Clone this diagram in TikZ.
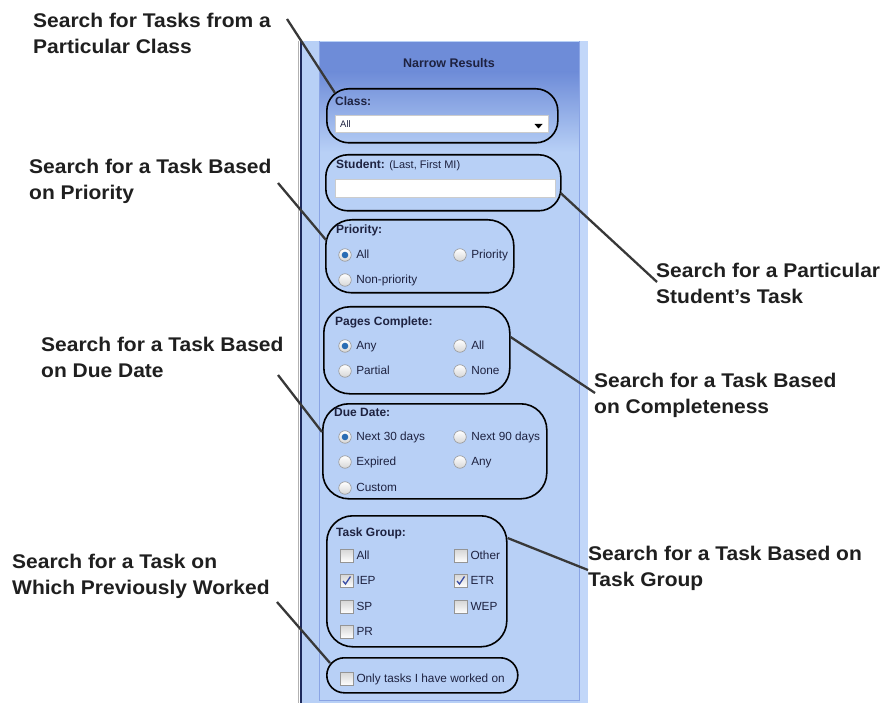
\documentclass[tikz,border=0pt]{standalone}
\usepackage{fontspec}
\setmainfont{Liberation Sans}
\newfontfamily\notefont{Liberation Sans}[FakeStretch=1.06]
\usetikzlibrary{positioning}
\definecolor{panelblue}{HTML}{B8D0F6}
\definecolor{striplight}{HTML}{C2D7F9}
\definecolor{headblue}{HTML}{6E8CD8}
\definecolor{edgeblue}{HTML}{8AA4E4}
\definecolor{navyline}{HTML}{1E2A5C}
\definecolor{uitext}{HTML}{1E2240}
\definecolor{notetext}{HTML}{1F1F1F}
\definecolor{leadgray}{HTML}{383838}
\definecolor{radioedge}{HTML}{959595}
\definecolor{radiogray}{HTML}{D6D6D6}
\definecolor{dotblue}{HTML}{2A6DB4}
\definecolor{tickblue}{HTML}{3A4EA6}
\tikzset{
  note/.style={font=\notefont\fontsize{19.8}{25.5}\selectfont\bfseries, text=notetext,
    align=left, anchor=north west, inner sep=0pt},
  leader/.style={draw=leadgray, line width=2.3pt},
  grpbox/.style={draw=black, line width=1.6pt, rounded corners=26pt, anchor=north west, inner sep=0pt},
  uititle/.style={font=\fontsize{12}{14}\selectfont\bfseries, text=uitext, anchor=base west, inner sep=0pt},
  optlabel/.style={font=\fontsize{11.8}{14}\selectfont, text=uitext, inner sep=0pt,
    text height=8.5pt, text depth=1.5pt},
  radio/.style={circle, draw=radioedge, line width=0.6pt, minimum size=12.5pt, inner sep=0pt,
    top color=white, bottom color=radiogray},
  checkbox/.style={rectangle, draw=radioedge, line width=0.6pt, minimum size=13pt, inner sep=0pt,
    top color=radiogray, bottom color=white},
  tick/.style={draw=tickblue, line width=1.3pt},
}
\begin{document}
\begin{tikzpicture}[x=1pt,y=-1pt]
  \useasboundingbox[fill=white] (0,0) rectangle (886,703);
  % panel
  \fill[panelblue] (300,41) rectangle (588,703);
  \fill[striplight] (580,41) rectangle (588,703);
  \fill[headblue] (320,42) rectangle (579,72);
  \shade[top color=headblue, bottom color=panelblue] (320,72) rectangle (579,152);
  \draw[edgeblue, line width=1.5pt] (319.5,41) -- (319.5,700.5) -- (579.5,700.5) -- (579.5,41);
  \draw[gray!60, line width=1pt] (298.5,41) -- (298.5,703);
  \draw[navyline, line width=2pt] (300.5,41) -- (300.5,703);
  \node[font=\fontsize{12.5}{14}\selectfont\bfseries, text=uitext] (head) at (449,63) {Narrow Results};

  % class
  \node[grpbox, rounded corners=22pt, minimum width=231pt, minimum height=54pt] (clsbox) at (326,88) {};
  \node[uititle] (clstitle) at (335,106) {Class:};
  \draw[fill=white, draw=gray!40] (335,115) rectangle (548,132);
  \node[font=\fontsize{9.5}{11}\selectfont, text=uitext, anchor=base west, inner sep=0pt] (clsval) at (340,127.5) {All};
  \fill[black] (534.5,124) -- (542.5,124) -- (538.5,128.5) -- cycle;

  % student
  \node[grpbox, rounded corners=22pt, minimum width=235pt, minimum height=56pt] (stubox) at (325,154) {};
  \node[uititle] (stutitle) at (336,169) {Student: {\mdseries\fontsize{11}{13}\selectfont(Last, First MI)}};
  \draw[fill=white, draw=gray!40] (335,179) rectangle (555,197);

  % option groups
  \node[grpbox, minimum width=188pt, minimum height=73pt] (pribox) at (325,219) {};
  \node[uititle] (prititle) at (336,234) {Priority:};
  \node[grpbox, minimum width=186pt, minimum height=87pt] (pcbox) at (323,306) {};
  \node[uititle] (pctitle) at (335,326) {Pages Complete:};
  \node[grpbox, minimum width=224pt, minimum height=95pt] (ddbox) at (322,403) {};
  \node[uititle] (ddtitle) at (334,416) {Due Date:};
  \node[grpbox, minimum width=180pt, minimum height=131pt] (tgbox) at (326,515) {};
  \node[uititle] (tgtitle) at (336,536) {Task Group:};
  \node[grpbox, rounded corners=17.5pt, minimum width=191pt, minimum height=35pt] (wkbox) at (326,657) {};

  \foreach \nm/\px/\py/\txt in {pr1/345/255/All, pr2/460/255/Priority, pr3/345/280/Non-priority,
      pc1/345/346/Any, pc2/460/346/All, pc3/345/371/Partial, pc4/460/371/None,
      dd1/345/437/Next 30 days, dd2/460/437/Next 90 days, dd3/345/462/Expired,
      dd4/460/462/Any, dd5/345/488/Custom}{
    \node[radio] (\nm) at (\px,\py) {};
    \node[optlabel, right=4.5pt of \nm] (\nm txt) {\txt};
  }
  \foreach \nm in {pr1,pc1,dd1}
    \fill[dotblue] (\nm) circle (3.3pt);

  \foreach \nm/\px/\py/\txt in {tg1/346.5/556/All, tg2/460.5/556/Other, tg3/346.5/581/IEP,
      tg4/460.5/581/ETR, tg5/346.5/607/SP, tg6/460.5/607/WEP, tg7/346.5/632/PR,
      wk1/346.5/679/Only tasks I have worked on}{
    \node[checkbox] (\nm) at (\px,\py) {};
    \node[optlabel, right=3pt of \nm] (\nm txt) {\txt};
  }
  \foreach \nm in {tg3,tg4}
    \draw[tick] ([shift={(-3.5,0)}]\nm.center) -- ++(2.5,3) -- ++(5,-7.5);

  % callouts
  \node[note] (clsnote) at (33,13) {Search for Tasks from a\\Particular Class};
  \node[note] (prinote) at (29,159) {Search for a Task Based\\on Priority};
  \node[note] (stunote) at (656,263) {Search for a Particular\\Student’s Task};
  \node[note] (ddnote) at (41,337) {Search for a Task Based\\on Due Date};
  \node[note] (pcnote) at (594,373) {Search for a Task Based\\on Completeness};
  \node[note] (tgnote) at (588,546) {Search for a Task Based on\\Task Group};
  \node[note] (wknote) at (12,554) {Search for a Task on\\Which Previously Worked};

  \draw[leader] ([shift={(254,6)}]clsnote.north west) -- ([shift={(9,5)}]clsbox.north west);
  \draw[leader] ([shift={(249,24)}]prinote.north west) -- ([shift={(1,21)}]pribox.north west);
  \draw[leader] ([shift={(-1,39)}]stubox.north east) -- ([shift={(1,19)}]stunote.north west);
  \draw[leader] ([shift={(0,31)}]pcbox.north east) -- ([shift={(1,20)}]pcnote.north west);
  \draw[leader] ([shift={(237,38)}]ddnote.north west) -- ([shift={(0,29)}]ddbox.north west);
  \draw[leader] ([shift={(0,23)}]tgbox.north east) -- ([shift={(0,24)}]tgnote.north west);
  \draw[leader] ([shift={(265,48)}]wknote.north west) -- ([shift={(4,6)}]wkbox.north west);
\end{tikzpicture}
\end{document}
